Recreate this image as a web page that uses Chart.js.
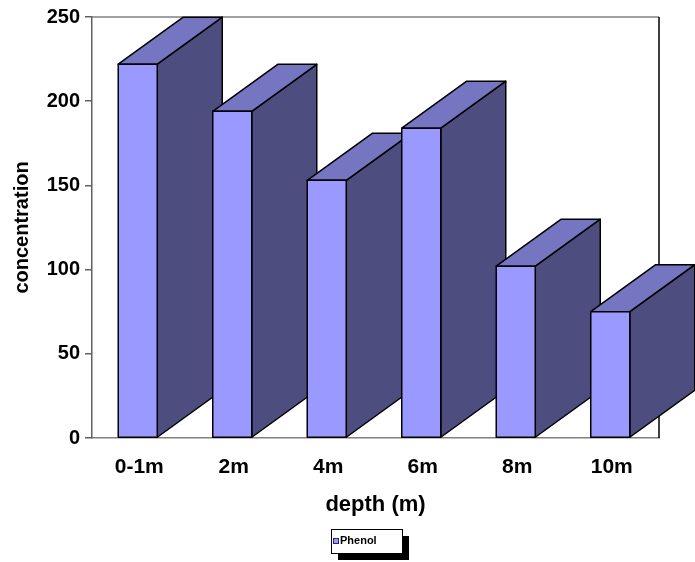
<!DOCTYPE html>
<html>
<head>
<meta charset="utf-8">
<script src="https://cdn.jsdelivr.net/npm/chart.js@4/dist/chart.umd.min.js"></script>
<style>
  html, body { margin: 0; padding: 0; background: #fff; }
</style>
</head>
<body>
<canvas id="chart" width="695" height="562"></canvas>
<script>
const depths = ["0-1m", "2m", "4m", "6m", "8m", "10m"];
const phenol = [222, 194, 153, 184, 102, 75];
const yTicks = [0, 50, 100, 150, 200, 250];

const FONT = "'Liberation Sans', Arial, sans-serif";
const FRONT = "#9999FF";
const TOP = "#7575C2";
const SIDE = "#4D4D80";
const DEPTH_X = 65, DEPTH_Y = 47;

// draws each bar as a box, left to right so later fronts cover earlier sides
const bars3d = {
    id: "bars3d",
    beforeDatasetsDraw(chart) {
        const ctx = chart.ctx;
        const area = chart.chartArea;

        // plot frame: grey top, black right
        ctx.save();
        ctx.lineWidth = 1.5;
        ctx.strokeStyle = "#808080";
        ctx.beginPath();
        ctx.moveTo(area.left, area.top);
        ctx.lineTo(area.right, area.top);
        ctx.stroke();
        ctx.strokeStyle = "#000";
        ctx.beginPath();
        ctx.moveTo(area.right, area.top);
        ctx.lineTo(area.right, area.bottom);
        ctx.stroke();

        ctx.lineWidth = 1.5;
        ctx.lineJoin = "round";
        chart.getDatasetMeta(0).data.forEach(bar => {
            const { x, y, base, width } = bar.getProps(["x", "y", "base", "width"], true);
            const l = x - width / 2 - 1.5, r = x + width / 2 - 1.5;

            const poly = (pts, fill) => {
                ctx.beginPath();
                ctx.moveTo(pts[0][0], pts[0][1]);
                pts.slice(1).forEach(p => ctx.lineTo(p[0], p[1]));
                ctx.closePath();
                ctx.fillStyle = fill;
                ctx.fill();
                ctx.strokeStyle = "#000";
                ctx.stroke();
            };

            poly([[r, y], [r + DEPTH_X, y - DEPTH_Y], [r + DEPTH_X, base - DEPTH_Y], [r, base]], SIDE);
            poly([[l, y], [l + DEPTH_X, y - DEPTH_Y], [r + DEPTH_X, y - DEPTH_Y], [r, y]], TOP);
            poly([[l, y], [r, y], [r, base], [l, base]], FRONT);
        });
        ctx.restore();
        return false;
    },
    afterDraw(chart) {
        // legend box with drop shadow
        const ctx = chart.ctx;
        const bx = 331, by = 529, bw = 71, bh = 24;
        ctx.save();
        ctx.fillStyle = "#000";
        ctx.fillRect(bx + 7, by + 7, bw, bh);
        ctx.fillStyle = "#fff";
        ctx.fillRect(bx, by, bw, bh);
        ctx.strokeStyle = "#000";
        ctx.lineWidth = 1;
        ctx.strokeRect(bx + 0.5, by + 0.5, bw, bh);

        ctx.fillStyle = FRONT;
        ctx.fillRect(333, 538, 5, 5);
        ctx.strokeStyle = "#2a2a60";
        ctx.strokeRect(333.5, 538.5, 5, 5);

        ctx.fillStyle = "#000";
        ctx.font = "bold 11px " + FONT;
        ctx.textBaseline = "middle";
        ctx.textAlign = "left";
        ctx.fillText(chart.data.datasets[0].label, 340, 541);
        ctx.restore();
    }
};

new Chart(document.getElementById("chart"), {
    type: "bar",
    data: {
        labels: depths,
        datasets: [{
            label: "Phenol",
            data: phenol,
            backgroundColor: FRONT,
            borderColor: "#000",
            borderWidth: 1.5,
            categoryPercentage: 1,
            barPercentage: 0.413
        }]
    },
    options: {
        responsive: false,
        animation: false,
        layout: { padding: { top: 16, right: 36, left: 0, bottom: 42 } },
        plugins: {
            legend: { display: false },
            tooltip: { enabled: false }
        },
        scales: {
            x: {
                grid: { drawOnChartArea: false, drawTicks: false },
                border: { color: "#808080", width: 1.5 },
                ticks: {
                    color: "#000",
                    font: { family: FONT, size: 21, weight: "bold" },
                    padding: 17,
                    maxRotation: 0
                },
                title: {
                    display: true,
                    text: "depth (m)",
                    color: "#000",
                    font: { family: FONT, size: 22, weight: "bold" },
                    padding: { top: 0, bottom: 2 }
                },
                afterFit(scale) { scale.height = 82; }
            },
            y: {
                min: 0,
                max: 250,
                afterBuildTicks(scale) { scale.ticks = yTicks.map(v => ({ value: v })); },
                grid: { drawOnChartArea: false, drawTicks: true, tickLength: 7, color: "#606060", lineWidth: 1.5 },
                border: { color: "#606060", width: 1.5 },
                ticks: {
                    color: "#000",
                    font: { family: FONT, size: 20, weight: "bold" },
                    padding: 5
                },
                title: {
                    display: true,
                    text: "concentration",
                    color: "#000",
                    font: { family: FONT, size: 20, weight: "bold" },
                    padding: { top: 10, bottom: 0 }
                },
                afterFit(scale) { scale.width = 92; }
            }
        }
    },
    plugins: [bars3d]
});
</script>
</body>
</html>
